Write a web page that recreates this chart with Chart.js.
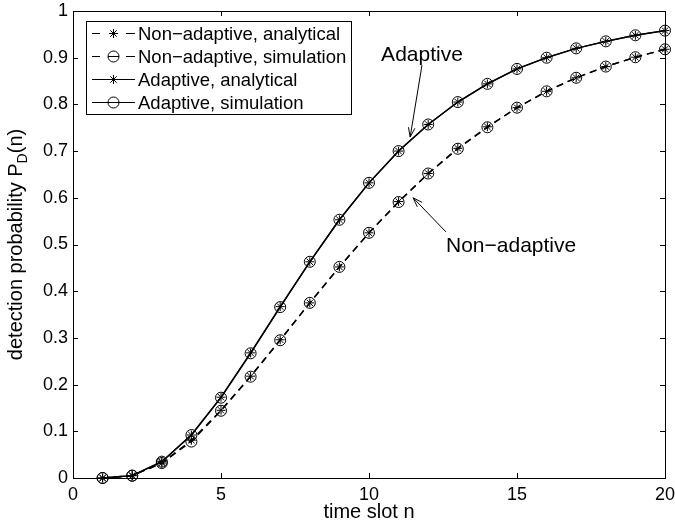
<!DOCTYPE html>
<html>
<head>
<meta charset="utf-8">
<script src="https://cdn.jsdelivr.net/npm/chart.js@4.4.0/dist/chart.umd.min.js"></script>
<style>
  html, body { margin: 0; padding: 0; background: #fff; }
</style>
</head>
<body>
<canvas id="chart-pd" width="675" height="524"></canvas>
<script>
// time slots and detection probabilities
const slots = [1, 2, 3, 4, 5, 6, 7, 8, 9, 10, 11, 12, 13, 14, 15, 16, 17, 18, 19, 20];
const nonAdaptiveAnalytical = [0, 0.005, 0.032, 0.081, 0.145, 0.218, 0.296, 0.375, 0.452, 0.525, 0.592, 0.652, 0.706, 0.752, 0.793, 0.828, 0.857, 0.881, 0.901, 0.918];
const nonAdaptiveSimulation = [0, 0.005, 0.032, 0.078, 0.144, 0.217, 0.295, 0.375, 0.452, 0.525, 0.591, 0.652, 0.705, 0.751, 0.793, 0.828, 0.857, 0.881, 0.901, 0.918];
const adaptiveAnalytical = [0, 0.005, 0.035, 0.092, 0.173, 0.268, 0.367, 0.463, 0.553, 0.632, 0.700, 0.757, 0.805, 0.844, 0.876, 0.900, 0.920, 0.935, 0.948, 0.958];
const adaptiveSimulation = [0, 0.005, 0.035, 0.092, 0.172, 0.267, 0.366, 0.463, 0.553, 0.632, 0.700, 0.757, 0.805, 0.844, 0.876, 0.900, 0.920, 0.935, 0.948, 0.958];

const xTicks = [0, 5, 10, 15, 20];
const yTicks = [0, 0.1, 0.2, 0.3, 0.4, 0.5, 0.6, 0.7, 0.8, 0.9, 1];
const legendLabels = ['Non\u2212adaptive, analytical', 'Non\u2212adaptive, simulation', 'Adaptive, analytical', 'Adaptive, simulation'];

const FONT = '"Liberation Sans", Arial, Helvetica, sans-serif';
Chart.defaults.font.family = FONT;
Chart.defaults.color = '#000';

function toPoints(vals) {
  return slots.map((n, i) => ({ x: n, y: vals[i] }));
}

const DASH = [7, 5];

function makeSet(label, vals, style, dashed) {
  return {
    label: label,
    data: toPoints(vals),
    borderColor: '#000',
    backgroundColor: 'rgba(0,0,0,0)',
    borderWidth: 1.4,
    borderDash: dashed ? DASH : [],
    pointStyle: style,
    pointRadius: style === 'circle' ? 5.5 : 4.5,
    pointBorderWidth: 1,
    pointBorderColor: '#000',
    pointBackgroundColor: 'rgba(0,0,0,0)',
    tension: 0,
    clip: false
  };
}

function arrow(ctx, x1, y1, x2, y2) {
  const a = Math.atan2(y2 - y1, x2 - x1);
  const len = 10, spread = 0.33;
  ctx.beginPath();
  ctx.moveTo(x1, y1);
  ctx.lineTo(x2, y2);
  ctx.moveTo(x2 - len * Math.cos(a - spread), y2 - len * Math.sin(a - spread));
  ctx.lineTo(x2, y2);
  ctx.lineTo(x2 - len * Math.cos(a + spread), y2 - len * Math.sin(a + spread));
  ctx.stroke();
}

function drawMarker(ctx, kind, x, y) {
  ctx.beginPath();
  if (kind === 'circle') {
    ctx.arc(x, y, 5.5, 0, Math.PI * 2);
  } else {
    const r = 4.5, d = r * Math.SQRT1_2;
    ctx.moveTo(x - r, y); ctx.lineTo(x + r, y);
    ctx.moveTo(x, y - r); ctx.lineTo(x, y + r);
    ctx.moveTo(x - d, y - d); ctx.lineTo(x + d, y + d);
    ctx.moveTo(x - d, y + d); ctx.lineTo(x + d, y - d);
  }
  ctx.stroke();
}

// box, inward ticks, legend, annotations and y title drawn matlab-style
const matlabFrame = {
  id: 'matlabFrame',
  afterDraw(chart) {
    const ctx = chart.ctx;
    const ca = chart.chartArea;
    const xs = chart.scales.x, ys = chart.scales.y;
    ctx.save();
    ctx.strokeStyle = '#000';
    ctx.fillStyle = '#000';
    ctx.lineWidth = 1;
    ctx.strokeRect(ca.left + 0.5, ca.top + 0.5, ca.right - ca.left, ca.bottom - ca.top);

    const tl = 5;
    ctx.beginPath();
    xTicks.forEach(v => {
      const px = Math.round(xs.getPixelForValue(v)) + 0.5;
      ctx.moveTo(px, ca.bottom); ctx.lineTo(px, ca.bottom - tl);
      ctx.moveTo(px, ca.top); ctx.lineTo(px, ca.top + tl);
    });
    yTicks.forEach(v => {
      const py = Math.round(ys.getPixelForValue(v)) + 0.5;
      ctx.moveTo(ca.left, py); ctx.lineTo(ca.left + tl, py);
      ctx.moveTo(ca.right, py); ctx.lineTo(ca.right - tl, py);
    });
    ctx.stroke();

    // legend
    const lx = ca.left + 13, ly = ca.top + 10, lw = 265, lh = 93;
    ctx.fillStyle = '#fff';
    ctx.fillRect(lx, ly, lw, lh);
    ctx.strokeRect(lx + 0.5, ly + 0.5, lw, lh);
    ctx.fillStyle = '#000';
    ctx.font = '18.5px ' + FONT;
    ctx.textBaseline = 'middle';
    ctx.textAlign = 'left';
    const markers = ['star', 'circle', 'star', 'circle'];
    legendLabels.forEach((lab, i) => {
      const ry = ly + 12.5 + i * 23;
      const mx = lx + 27.5;
      ctx.lineWidth = 1.2;
      ctx.beginPath();
      if (i < 2) {
        ctx.moveTo(lx + 6, ry); ctx.lineTo(lx + 14, ry);
        ctx.moveTo(lx + 40, ry); ctx.lineTo(lx + 49, ry);
        if (i === 1) { ctx.moveTo(mx - 5.5, ry); ctx.lineTo(mx + 5.5, ry); }
      } else {
        ctx.moveTo(lx + 6, ry); ctx.lineTo(lx + 49, ry);
      }
      ctx.stroke();
      ctx.lineWidth = 1;
      drawMarker(ctx, markers[i], mx, ry);
      ctx.fillText(lab, lx + 52, ry + 1);
    });

    // annotations
    ctx.font = '21px ' + FONT;
    ctx.textAlign = 'center';
    ctx.fillText('Adaptive', xs.getPixelForValue(11.79), ys.getPixelForValue(0.906));
    ctx.lineWidth = 1;
    arrow(ctx, xs.getPixelForValue(11.79), ys.getPixelForValue(0.884), xs.getPixelForValue(11.39), ys.getPixelForValue(0.730));
    ctx.fillText('Non\u2212adaptive', xs.getPixelForValue(14.8), ys.getPixelForValue(0.497));
    arrow(ctx, xs.getPixelForValue(12.6), ys.getPixelForValue(0.527), xs.getPixelForValue(11.49), ys.getPixelForValue(0.600));

    // y title with subscript D
    ctx.translate(22, (ca.top + ca.bottom) / 2);
    ctx.rotate(-Math.PI / 2);
    ctx.textBaseline = 'alphabetic';
    const main = 'detection probability P', sub = 'D', tail = '(n)';
    const mainFont = '20px ' + FONT, subFont = '14px ' + FONT;
    ctx.font = mainFont;
    const w1 = ctx.measureText(main).width, w3 = ctx.measureText(tail).width;
    ctx.font = subFont;
    const w2 = ctx.measureText(sub).width;
    const x0 = -(w1 + w2 + w3) / 2;
    ctx.textAlign = 'left';
    ctx.font = mainFont;
    ctx.fillText(main, x0, 0);
    ctx.font = subFont;
    ctx.fillText(sub, x0 + w1, 5);
    ctx.font = mainFont;
    ctx.fillText(tail, x0 + w1 + w2, 0);
    ctx.restore();
  }
};

new Chart(document.getElementById('chart-pd'), {
  type: 'line',
  data: {
    datasets: [
      makeSet(legendLabels[0], nonAdaptiveAnalytical, 'star', true),
      makeSet(legendLabels[1], nonAdaptiveSimulation, 'circle', true),
      makeSet(legendLabels[2], adaptiveAnalytical, 'star', false),
      makeSet(legendLabels[3], adaptiveSimulation, 'circle', false)
    ]
  },
  options: {
    responsive: false,
    animation: false,
    layout: { padding: { left: 0, right: 10, top: 11, bottom: 0 } },
    plugins: { legend: { display: false }, tooltip: { enabled: false } },
    scales: {
      x: {
        type: 'linear',
        min: 0, max: 20,
        afterFit(scale) { scale.height = 46; scale.paddingLeft = 0; scale.paddingRight = 0; },
        afterBuildTicks(scale) { scale.ticks = xTicks.map(v => ({ value: v })); },
        grid: { display: false, drawTicks: false },
        border: { display: false },
        ticks: { font: { size: 18 }, padding: 6, maxRotation: 0 },
        title: { display: true, text: 'time slot n', font: { size: 20 }, padding: { top: 0, bottom: 0 } }
      },
      y: {
        min: 0, max: 1,
        afterFit(scale) { scale.width = 73; scale.paddingTop = 0; scale.paddingBottom = 0; },
        afterBuildTicks(scale) { scale.ticks = yTicks.map(v => ({ value: v })); },
        grid: { display: false, drawTicks: false },
        border: { display: false },
        ticks: { font: { size: 18 }, padding: 5, callback: v => String(+v.toFixed(1)) }
      }
    }
  },
  plugins: [matlabFrame]
});
</script>
</body>
</html>
